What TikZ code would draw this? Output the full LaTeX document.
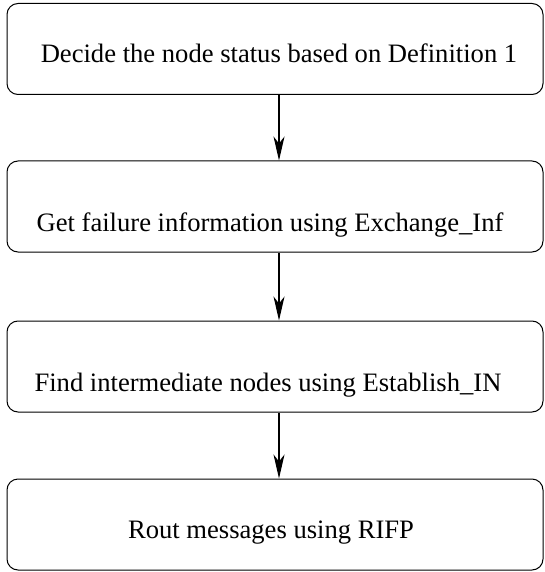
\documentclass[tikz,border=0pt]{standalone}
\usepackage{fontspec}
\setmainfont{Liberation Serif}
\usetikzlibrary{arrows.meta}
\begin{document}
\begin{tikzpicture}[x=1pt,y=-1pt,
  stepbox/.style={draw=black,line width=1pt,rounded corners=11pt,rectangle,
    minimum width=536pt,minimum height=91pt,inner sep=0pt},
  lbl/.style={anchor=base,inner sep=0pt,font=\fontsize{26.6}{30}\selectfont},
  arr/.style={line width=1.1pt,-{Stealth[length=24pt,width=11pt,inset=7pt]}}]
\useasboundingbox (0,0) rectangle (545,572);
\node[stepbox] (b1) at (275,49) {};
\node[stepbox] (b2) at (275,206.5) {};
\node[stepbox] (b3) at (275,366.5) {};
\node[stepbox] (b4) at (275,524.5) {};
\node[lbl] (t1) at (279,62.6) {Decide the node status based on Definition 1};
\node[lbl] (t2) at (270,231) {Get failure information using Exchange\_Inf};
\node[lbl] (t3) at (268,391) {Find intermediate nodes using Establish\_IN};
\node[lbl] (t4) at (271,538) {Rout messages using RIFP};
\draw[arr] ([xshift=4pt]b1.south) -- ([xshift=4pt]b2.north);
\draw[arr] ([xshift=4pt]b2.south) -- ([xshift=4pt]b3.north);
\draw[arr] ([xshift=4pt]b3.south) -- ([xshift=4pt]b4.north);
\end{tikzpicture}
\end{document}
